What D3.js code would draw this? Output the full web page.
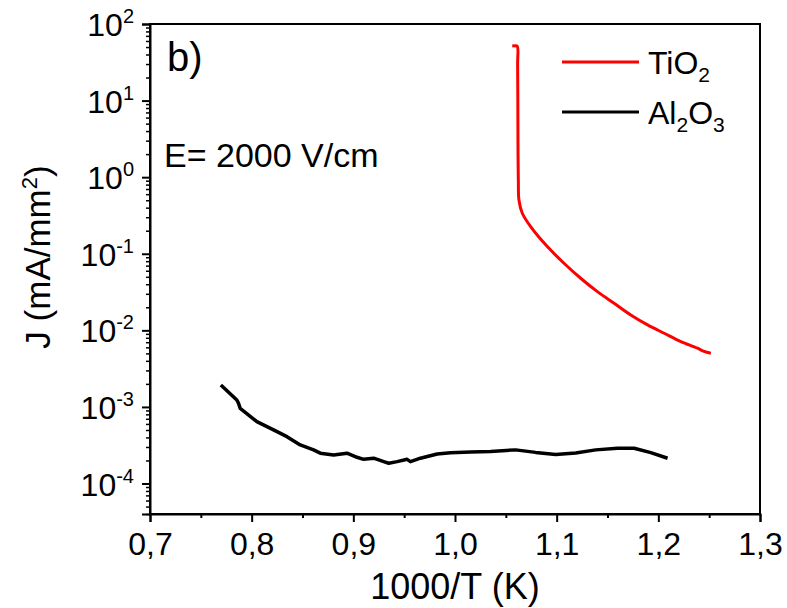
<!DOCTYPE html>
<html>
<head>
<meta charset="utf-8">
<script src="https://cdn.jsdelivr.net/npm/d3@7/dist/d3.min.js"></script>
<style>
  html, body { margin: 0; padding: 0; background: #fff; }
  svg { display: block; font-family: "Liberation Sans", Arial, sans-serif; }
</style>
</head>
<body>
<svg id="chart" width="787" height="608"></svg>
<script>
// Current density vs inverse temperature at E = 2000 V/cm
const tio2X = [1.0563, 1.0590, 1.0612, 1.0616, 1.0618, 1.0620, 1.0623, 1.0629, 1.0662, 1.0744, 1.0908, 1.1072,
  1.1236, 1.1401, 1.1565, 1.1729, 1.1894, 1.2057, 1.2222, 1.2386, 1.2450, 1.2517];
const tio2J = [51.6, 51.8, 51.4, 30.0, 10.2, 2.0, 0.919, 0.504, 0.338, 0.226, 0.124, 0.0752,
  0.0479, 0.0320, 0.0226, 0.0159, 0.0118, 0.00917, 0.00713, 0.00584, 0.00530, 0.00502];

const al2o3X = [0.7697, 0.7854, 0.7870, 0.7887, 0.8051, 0.8215, 0.8347, 0.8478, 0.8609, 0.8675, 0.8806, 0.8938,
  0.9036, 0.9101, 0.9200, 0.9299, 0.9348, 0.9431, 0.9529, 0.9562, 0.9660, 0.9825, 0.9956, 1.0153, 1.0350,
  1.0596, 1.0793, 1.0990, 1.1187, 1.1384, 1.1598, 1.1762, 1.1926, 1.2091];
const al2o3J = [1.94e-3, 1.23e-3, 1.12e-3, 9.6e-4, 6.43e-4, 5.01e-4, 4.09e-4, 3.19e-4, 2.75e-4, 2.49e-4, 2.36e-4, 2.49e-4,
  2.20e-4, 2.07e-4, 2.14e-4, 1.93e-4, 1.84e-4, 1.93e-4, 2.07e-4, 1.93e-4, 2.14e-4, 2.43e-4, 2.53e-4, 2.58e-4, 2.62e-4,
  2.75e-4, 2.55e-4, 2.40e-4, 2.51e-4, 2.75e-4, 2.89e-4, 2.89e-4, 2.53e-4, 2.14e-4];

const xTicks = [0.7, 0.8, 0.9, 1.0, 1.1, 1.2, 1.3];
const xMinorTicks = [0.75, 0.85, 0.95, 1.05, 1.15, 1.25];
const yExponents = [-4, -3, -2, -1, 0, 1, 2];

const margin = { left: 150, top: 24, right: 27, bottom: 94 };
const W = 787, H = 608;
const svg = d3.select("#chart");

const x = d3.scaleLinear().domain([0.7, 1.3]).range([margin.left, W - margin.right]);
const y = d3.scaleLog().domain([4e-5, 100]).range([H - margin.bottom, margin.top]);

const tickFont = 32;

// frame
svg.append("rect")
  .attr("x", x(0.7)).attr("y", y(100))
  .attr("width", x(1.3) - x(0.7)).attr("height", y(4e-5) - y(100))
  .attr("fill", "none").attr("stroke", "#000").attr("stroke-width", 2);

// x axis
const xAxis = d3.axisBottom(x).tickValues(xTicks).tickSize(8).tickPadding(10)
  .tickFormat(d => d3.format(".1f")(d).replace(".", ","));
const gx = svg.append("g").attr("transform", `translate(0,${y(4e-5)})`).call(xAxis);
gx.selectAll("text").attr("font-size", tickFont).attr("font-family", "Liberation Sans, Arial, sans-serif").attr("fill", "#000");
gx.selectAll("line").attr("stroke-width", 2);
gx.select(".domain").attr("stroke-width", 2);
svg.append("g").attr("transform", `translate(0,${y(4e-5)})`)
  .call(d3.axisBottom(x).tickValues(xMinorTicks).tickSize(4).tickFormat(""))
  .call(g => g.select(".domain").remove())
  .selectAll("line").attr("stroke-width", 2);

// y axis
const yAxis = d3.axisLeft(y).tickValues(yExponents.map(e => Math.pow(10, e))).tickSize(8).tickFormat("");
const gy = svg.append("g").attr("transform", `translate(${x(0.7)},0)`).call(yAxis);
gy.selectAll("line").attr("stroke-width", 2);
gy.select(".domain").attr("stroke-width", 2);

const yMinor = [];
for (let e = -5; e <= 1; e++) for (let m = 2; m <= 9; m++) {
  const v = m * Math.pow(10, e);
  if (v >= 4e-5 && v <= 100) yMinor.push(v);
}
svg.append("g").attr("transform", `translate(${x(0.7)},0)`)
  .call(d3.axisLeft(y).tickValues(yMinor).tickSize(4).tickFormat(""))
  .call(g => g.select(".domain").remove())
  .selectAll("line").attr("stroke-width", 1.5);

// y tick labels as 10^n
yExponents.forEach(e => {
  const t = svg.append("text")
    .attr("x", x(0.7) - 16).attr("y", y(Math.pow(10, e)) + 12)
    .attr("text-anchor", "end").attr("font-size", tickFont).attr("fill", "#000");
  t.append("tspan").text("10");
  t.append("tspan").attr("dy", -13).attr("font-size", 20).text(String(e));
});

// axis titles
svg.append("text")
  .attr("x", (x(0.7) + x(1.3)) / 2).attr("y", 599)
  .attr("text-anchor", "middle").attr("font-size", 36).attr("fill", "#000")
  .text("1000/T (K)");

const yt = svg.append("text")
  .attr("transform", `translate(50,${(y(100) + y(4e-5)) / 2 - 12}) rotate(-90)`)
  .attr("text-anchor", "middle").attr("font-size", 35).attr("fill", "#000");
yt.append("tspan").text("J (mA/mm");
yt.append("tspan").attr("dy", -13).attr("font-size", 22).text("2");
yt.append("tspan").attr("dy", 13).text(")");

// curves
const line = d3.line().x(d => x(d[0])).y(d => y(d[1]));
const smooth = d3.line().x(d => x(d[0])).y(d => y(d[1])).curve(d3.curveCatmullRom.alpha(0.5));
svg.append("path")
  .datum(al2o3X.map((v, i) => [v, al2o3J[i]]))
  .attr("d", line).attr("fill", "none").attr("stroke", "#000")
  .attr("stroke-width", 3.5).attr("stroke-linejoin", "round");
svg.append("path")
  .datum(tio2X.map((v, i) => [v, tio2J[i]]))
  .attr("d", smooth).attr("fill", "none").attr("stroke", "#ff0000")
  .attr("stroke-width", 3).attr("stroke-linejoin", "round");

// panel label and field annotation
svg.append("text").attr("x", 167).attr("y", 71).attr("font-size", 40).attr("fill", "#000").text("b)");
svg.append("text").attr("x", 164).attr("y", 167).attr("font-size", 34).attr("fill", "#000").text("E= 2000 V/cm");

// legend
const legend = [
  { color: "#ff0000", y: 62, parts: [["TiO", 0], ["2", 1]] },
  { color: "#000", y: 112, parts: [["Al", 0], ["2", 1], ["O", 0], ["3", 1]] }
];
legend.forEach(l => {
  svg.append("line").attr("x1", 562).attr("x2", 639).attr("y1", l.y).attr("y2", l.y)
    .attr("stroke", l.color).attr("stroke-width", 3);
  const t = svg.append("text").attr("x", 648).attr("y", l.y + 12).attr("font-size", 32).attr("fill", "#000");
  let shifted = false;
  l.parts.forEach(([s, sub]) => {
    const ts = t.append("tspan").text(s);
    if (sub && !shifted) { ts.attr("dy", 8).attr("font-size", 21); shifted = true; }
    else if (!sub && shifted) { ts.attr("dy", -8); shifted = false; }
  });
});
</script>
</body>
</html>
